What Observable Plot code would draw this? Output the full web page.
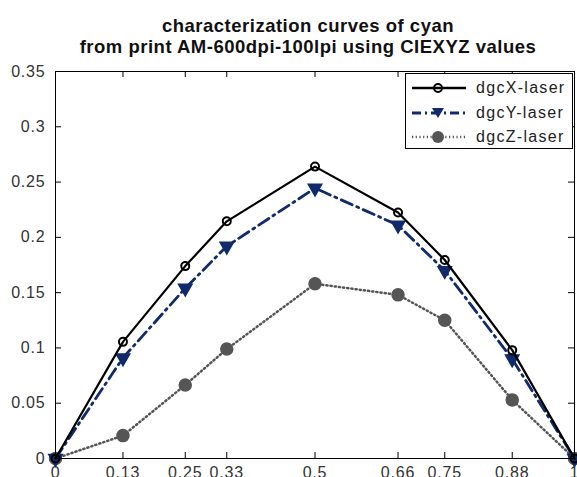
<!DOCTYPE html>
<html><head><meta charset="utf-8">
<script src="https://cdn.jsdelivr.net/npm/d3@7"></script>
<script src="https://cdn.jsdelivr.net/npm/@observablehq/plot@0.6"></script>
<style>
body{margin:0;background:#fff;font-family:"Liberation Sans",Arial,sans-serif;}
#wrap{position:relative;width:577px;height:477px;overflow:hidden;}
#title{position:absolute;left:40px;width:536px;top:15px;text-align:center;font-size:18.5px;font-weight:bold;letter-spacing:0.5px;line-height:21px;color:#111;white-space:nowrap;}
#chart{position:absolute;left:0;top:60px;}
#legend{position:absolute;left:405px;top:73px;width:168px;height:76px;border:1px solid #000;background:#fff;box-sizing:border-box;}
.li{position:absolute;left:6px;height:24px;display:flex;align-items:center;font-size:16px;letter-spacing:1.3px;color:#222;white-space:nowrap;}
.li svg{margin-right:10px;}
</style></head><body>
<div id="wrap">
<div id="title">characterization curves of cyan<br>from print AM-600dpi-100lpi using CIEXYZ values</div>
<div id="chart"></div>
<div id="legend"></div>
</div>
<script>
const xs = [0, 0.13, 0.25, 0.33, 0.5, 0.66, 0.75, 0.88, 1];
const dgcX = [0, 0.1055, 0.174, 0.2145, 0.264, 0.2225, 0.1795, 0.098, 0];
const dgcY = [0, 0.091, 0.154, 0.192, 0.2445, 0.211, 0.170, 0.090, 0];
const dgcZ = [0, 0.0207, 0.0665, 0.099, 0.158, 0.148, 0.125, 0.053, 0];
const xTicks = [0, 0.13, 0.25, 0.33, 0.5, 0.66, 0.75, 0.88, 1];
const yTicks = [0, 0.05, 0.1, 0.15, 0.2, 0.25, 0.3, 0.35];
const seriesNames = ["dgcX-laser", "dgcY-laser", "dgcZ-laser"];

const ptsX = xs.map((x,i)=>({x, y: dgcX[i]}));
const ptsY = xs.map((x,i)=>({x, y: dgcY[i]}));
const ptsZ = xs.map((x,i)=>({x, y: dgcZ[i]}));

const W = 577, H = 417, mT = 11, mB = 19, mL = 55, mR = 3;
const fh = H - mT - mB, fw = W - mL - mR, tl = 6;
const navy = "#102a6b", gray = "#555555";
const fmt = d => String(d);

const plot = Plot.plot({
  width: W, height: H, marginTop: mT, marginBottom: mB, marginLeft: mL, marginRight: mR,
  style: {fontFamily: '"Liberation Sans", Arial, sans-serif', fontSize: "16px", letterSpacing: "0.8px", color: "#333", overflow: "visible", background: "transparent"},
  x: {domain: [0, 1]},
  y: {domain: [0, 0.35]},
  marks: [
    Plot.axisX({ticks: xTicks, tickSize: 0, tickPadding: 8, tickFormat: fmt, label: null}),
    Plot.axisY({ticks: yTicks, tickSize: 0, tickPadding: 10, tickFormat: fmt, label: null}),
    Plot.tickX(xTicks, {x: d=>d, insetTop: fh - tl, stroke: "#000"}),
    Plot.tickX(xTicks, {x: d=>d, insetBottom: fh - tl, stroke: "#000"}),
    Plot.tickY(yTicks, {y: d=>d, insetRight: fw - tl, stroke: "#000"}),
    Plot.tickY(yTicks, {y: d=>d, insetLeft: fw - tl, stroke: "#000"}),
    Plot.line(ptsZ, {x: "x", y: "y", stroke: gray, strokeWidth: 2.5, strokeDasharray: "1.2,3"}),
    Plot.dot(ptsZ, {x: "x", y: "y", r: 6, fill: gray, stroke: gray}),
    Plot.line(ptsY, {x: "x", y: "y", stroke: navy, strokeWidth: 2.8, strokeDasharray: "12,5,2,5"}),
    Plot.dot(ptsY, {x: "x", y: "y", symbol: "triangle", r: 5, rotate: 180, fill: navy, stroke: navy}),
    Plot.line(ptsX, {x: "x", y: "y", stroke: "#000", strokeWidth: 2.2}),
    Plot.dot(ptsX, {x: "x", y: "y", r: 4, fill: "none", stroke: "#000", strokeWidth: 2}),
    Plot.frame({stroke: "#000", strokeWidth: 1})
  ]
});
document.getElementById("chart").appendChild(plot);

// legend
const styles = [
  {stroke: "#000", w: 2.5, dash: null, marker: "circle"},
  {stroke: navy, w: 3, dash: "9,4,2,4", marker: "tri"},
  {stroke: gray, w: 2.5, dash: "1.2,2.5", marker: "dot"}
];
const leg = document.getElementById("legend");
seriesNames.forEach((name, i) => {
  const s = styles[i];
  const row = document.createElement("div");
  row.className = "li";
  row.style.top = (2 + i * 24.5) + "px";
  let mk = "";
  if (s.marker === "circle") mk = `<circle cx="26" cy="12" r="4" fill="none" stroke="#000" stroke-width="2"/>`;
  if (s.marker === "tri") mk = `<path d="M20,7 L32,7 L26,17 Z" fill="${navy}"/>`;
  if (s.marker === "dot") mk = `<circle cx="26" cy="12" r="6" fill="${gray}"/>`;
  row.innerHTML = `<svg width="54" height="24"><line x1="0" y1="12" x2="54" y2="12" stroke="${s.stroke}" stroke-width="${s.w}" ${s.dash ? `stroke-dasharray="${s.dash}"` : ""}/>${mk}</svg><span>${name}</span>`;
  leg.appendChild(row);
});
</script>
</body></html>
